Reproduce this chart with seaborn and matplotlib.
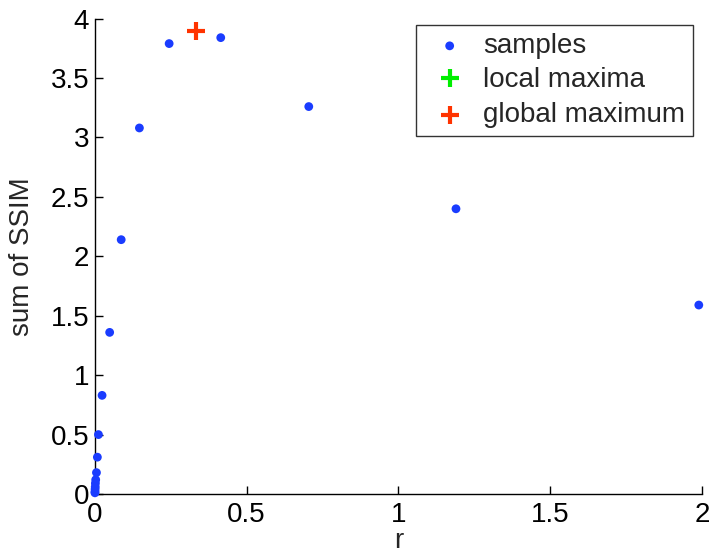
import matplotlib
matplotlib.use("Agg")
import matplotlib.pyplot as plt
import seaborn as sns
import pandas as pd

# sample points (r, sum of SSIM)
r_samples = [1.99, 1.19, 0.705, 0.415, 0.245, 0.147, 0.087, 0.049, 0.024,
             0.012, 0.0085, 0.0055, 0.003, 0.002, 0.0015, 0.001, 0.0008, 0.0005]
ssim_samples = [1.59, 2.40, 3.26, 3.84, 3.79, 3.08, 2.14, 1.36, 0.83,
                0.50, 0.31, 0.18, 0.12, 0.09, 0.06, 0.04, 0.02, 0.01]

# local maxima (none shown besides the global)
r_local = []
ssim_local = []

# global maximum
r_global = [0.335]
ssim_global = [3.90]

x_ticks = [0, 0.5, 1, 1.5, 2]
x_tick_labels = ["0", "0.5", "1", "1.5", "2"]
y_ticks = [0, 0.5, 1, 1.5, 2, 2.5, 3, 3.5, 4]
y_tick_labels = ["0", "0.5", "1", "1.5", "2", "2.5", "3", "3.5", "4"]

sns.set_style("white")
plt.rcParams['font.family'] = ['Liberation Sans', 'DejaVu Sans']

fig = plt.figure(figsize=(7.1, 5.56), dpi=100)
ax = fig.add_axes([0.1335, 0.1115, 0.855, 0.855])

df = pd.DataFrame({"r": r_samples, "s": ssim_samples})
sns.scatterplot(data=df, x="r", y="s", ax=ax, color="#1a3cff", s=40,
                edgecolor="none", label="samples", zorder=3, clip_on=False)
ax.plot(r_local, ssim_local, linestyle="none", marker="+", color="#00ee00",
        markersize=13, markeredgewidth=3, label="local maxima")
dg = pd.DataFrame({"r": r_global, "s": ssim_global})
sns.scatterplot(data=dg, x="r", y="s", ax=ax, color="#ff3300", marker="+",
                s=170, linewidth=3, label="global maximum", zorder=4)

ax.set_xlim(0, 2)
ax.set_ylim(0, 4)
ax.set_xticks(x_ticks)
ax.set_xticklabels(x_tick_labels)
ax.set_yticks(y_ticks)
ax.set_yticklabels(y_tick_labels)
ax.tick_params(direction="in", length=6, width=1, labelsize=20,
               colors="black", bottom=True, left=True)
ax.tick_params(axis="x", pad=6)
ax.tick_params(axis="y", pad=4)
for side in ["top", "right"]:
    ax.spines[side].set_visible(False)
for side in ["left", "bottom"]:
    ax.spines[side].set_color("black")
    ax.spines[side].set_linewidth(1)

ax.set_xlabel("r", fontsize=20, labelpad=0)
ax.set_ylabel("sum of SSIM", fontsize=20, labelpad=11)

leg = ax.legend(loc="upper right", bbox_to_anchor=(0.986, 0.987), fontsize=20,
                frameon=True, fancybox=False, edgecolor="black",
                borderpad=0.3, handletextpad=0.3, labelspacing=0.3,
                handlelength=1.8, borderaxespad=0)
leg.get_frame().set_linewidth(1)

fig.savefig("out.png", dpi=100)
